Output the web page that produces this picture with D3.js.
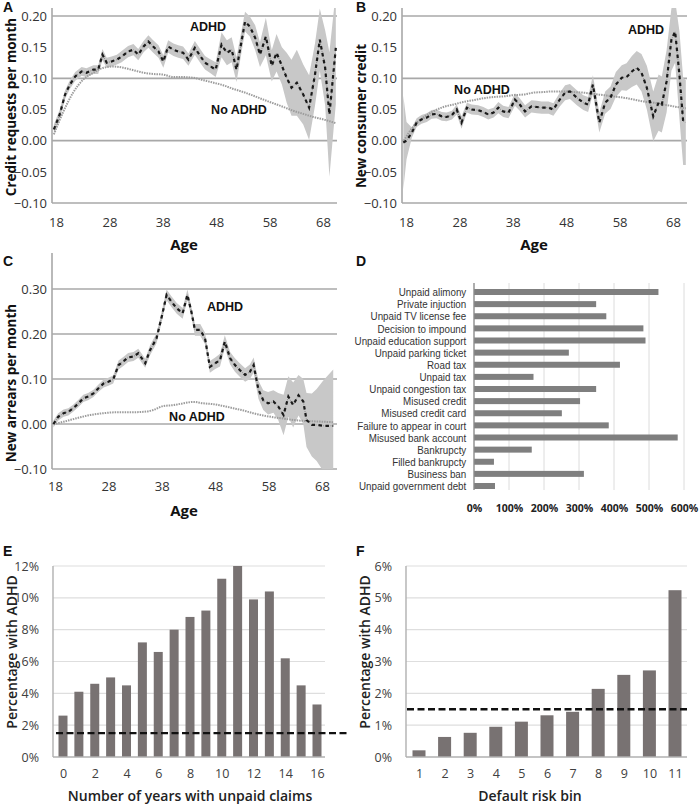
<!DOCTYPE html>
<html><head><meta charset="utf-8">
<script src="https://cdn.jsdelivr.net/npm/d3@7"></script>
<style>
body{margin:0;background:#fff}
svg{display:block}
text{font-family:"Open Sans",sans-serif}
</style>
</head><body>
<svg id="c" width="700" height="805"></svg>
<script>
// ---------- DATA ----------
const ageTicks = [18, 28, 38, 48, 58, 68];

// Panel A: credit requests per month
const ageA  = [17.6,18.7,19.7,20.6,21.6,22.8,23.7,25.0,25.9,26.7,27.5,28.4,29.4,30.3,31.5,32.5,33.4,34.4,35.3,36.2,37.2,38.1,39.0,40.0,40.9,41.8,42.8,44.0,45.0,45.9,46.8,47.9,49.0,50.0,50.9,51.8,53.4,54.3,55.3,56.2,57.3,58.4,59.3,60.3,61.2,62.1,63.1,64.3,65.4,66.5,67.4,68.4,69.2,70.4];
const adhdA = [0.018,0.042,0.074,0.090,0.103,0.111,0.109,0.114,0.114,0.138,0.125,0.127,0.130,0.135,0.143,0.146,0.138,0.151,0.159,0.151,0.143,0.127,0.151,0.146,0.143,0.141,0.130,0.149,0.136,0.125,0.120,0.114,0.154,0.141,0.146,0.114,0.191,0.183,0.165,0.138,0.167,0.120,0.141,0.120,0.101,0.085,0.093,0.074,0.053,0.106,0.162,0.117,0.042,0.149];
const ciA   = [0.008,0.008,0.007,0.007,0.007,0.007,0.007,0.007,0.007,0.009,0.008,0.008,0.008,0.009,0.009,0.009,0.009,0.009,0.010,0.010,0.010,0.010,0.010,0.010,0.010,0.010,0.010,0.011,0.011,0.011,0.011,0.012,0.020,0.020,0.020,0.020,0.016,0.016,0.020,0.020,0.030,0.025,0.030,0.030,0.040,0.045,0.053,0.048,0.052,0.050,0.050,0.060,0.100,0.090];
const ageNo = [17.6,19.4,21.2,23.1,25.0,26.9,28.7,30.6,32.5,34.4,36.2,38.1,40.0,41.8,43.7,45.6,47.5,49.3,51.2,53.1,55.0,56.8,58.7,60.6,62.4,64.3,66.2,68.1,70.4];
const noA   = [0.010,0.047,0.077,0.098,0.109,0.117,0.119,0.117,0.113,0.109,0.107,0.106,0.102,0.102,0.101,0.097,0.093,0.089,0.083,0.078,0.072,0.066,0.060,0.054,0.048,0.043,0.038,0.034,0.028];

// Panel B: new consumer credit
const ageB  = [17.5,18.1,19.1,20.0,20.9,21.9,22.8,23.7,24.7,25.6,26.6,27.5,28.4,29.4,30.3,31.5,32.5,33.4,34.4,35.3,36.2,37.2,38.4,39.3,40.3,41.5,42.5,43.4,44.7,45.6,46.8,47.8,48.7,50.0,51.2,52.1,53.0,54.2,55.3,56.3,57.3,58.4,59.3,60.3,61.2,62.1,63.1,64.3,65.3,65.9,66.8,67.7,68.4,69.2,69.9,70.4];
const adhdB = [-0.003,0.000,0.013,0.029,0.034,0.037,0.042,0.043,0.039,0.038,0.041,0.050,0.029,0.053,0.050,0.049,0.046,0.042,0.045,0.053,0.047,0.045,0.066,0.058,0.047,0.055,0.054,0.053,0.053,0.050,0.066,0.077,0.079,0.069,0.061,0.058,0.090,0.029,0.061,0.069,0.090,0.101,0.102,0.111,0.117,0.109,0.085,0.039,0.061,0.058,0.095,0.162,0.175,0.106,0.031,0.029];
const ciB   = [0.075,0.030,0.008,0.007,0.007,0.007,0.007,0.007,0.007,0.007,0.007,0.008,0.010,0.008,0.008,0.008,0.008,0.008,0.008,0.009,0.009,0.009,0.010,0.010,0.010,0.010,0.010,0.010,0.010,0.010,0.011,0.012,0.012,0.012,0.012,0.012,0.015,0.016,0.018,0.018,0.020,0.020,0.022,0.025,0.027,0.030,0.035,0.040,0.045,0.045,0.050,0.050,0.050,0.070,0.070,0.068];
const noB   = [0.000,0.023,0.037,0.047,0.054,0.058,0.062,0.065,0.068,0.070,0.071,0.073,0.074,0.077,0.078,0.079,0.079,0.078,0.077,0.075,0.073,0.071,0.069,0.066,0.063,0.061,0.058,0.055,0.052];

// Panel C: new arrears per month
const ageC  = [17.7,18.6,19.6,20.5,21.4,22.4,23.3,24.2,25.2,26.1,27.1,28.0,28.9,29.9,30.8,31.7,32.7,33.6,34.9,35.8,37.0,38.0,38.9,39.8,40.8,41.9,42.8,43.6,44.2,45.2,46.1,47.0,48.0,48.9,49.8,50.8,51.7,52.6,53.6,54.5,55.2,56.1,57.0,57.9,58.9,59.8,60.8,61.7,62.6,63.6,64.5,65.1,66.1,67.0,68.2,70.1];
const adhdC = [0.000,0.016,0.024,0.027,0.035,0.046,0.057,0.061,0.068,0.079,0.090,0.094,0.099,0.131,0.139,0.148,0.150,0.157,0.135,0.164,0.190,0.239,0.287,0.272,0.257,0.246,0.287,0.246,0.209,0.209,0.190,0.127,0.135,0.142,0.183,0.146,0.131,0.120,0.109,0.116,0.131,0.076,0.053,0.046,0.050,0.039,0.020,0.061,0.042,0.064,0.050,0.009,-0.002,-0.002,-0.004,-0.004];
const ciC   = [0.008,0.008,0.008,0.008,0.008,0.008,0.008,0.008,0.008,0.008,0.009,0.009,0.009,0.010,0.010,0.010,0.010,0.010,0.010,0.011,0.011,0.012,0.012,0.012,0.012,0.012,0.012,0.012,0.013,0.013,0.013,0.013,0.013,0.014,0.014,0.014,0.015,0.015,0.015,0.016,0.017,0.020,0.022,0.025,0.025,0.030,0.045,0.045,0.050,0.045,0.050,0.060,0.070,0.080,0.100,0.125];
const ageNoC = [17.7,19.6,22.1,24.6,27.1,29.5,32.0,34.5,36.4,38.3,40.2,42.0,43.9,45.8,47.7,49.5,51.4,53.3,55.1,57.0,58.9,60.8,62.6,64.5,66.4,68.2,70.1];
const noC   = [0.000,0.005,0.013,0.020,0.024,0.026,0.026,0.027,0.031,0.040,0.042,0.046,0.049,0.046,0.044,0.040,0.035,0.030,0.024,0.019,0.015,0.012,0.009,0.007,0.006,0.005,0.004];

// Panel D: relative risk by type of claim
const dCats = ["Unpaid alimony","Private injuction","Unpaid TV license fee","Decision to impound","Unpaid education support","Unpaid parking ticket","Road tax","Unpaid tax","Unpaid congestion tax","Misused credit","Misused credit card","Failure to appear in court","Misused bank account","Bankrupcty","Filled bankrupcty","Business ban","Unpaid government debt"];
const dVals = [5.27,3.49,3.78,4.84,4.90,2.71,4.17,1.70,3.49,3.03,2.51,3.85,5.82,1.65,0.57,3.14,0.60];
const dTicks = [0,1,2,3,4,5,6];

// Panel E: years with unpaid claims
const eYears = [0,1,2,3,4,5,6,7,8,9,10,11,12,13,14,15,16];
const eVals  = [0.026,0.041,0.046,0.050,0.045,0.072,0.066,0.080,0.088,0.092,0.112,0.120,0.099,0.104,0.062,0.045,0.033];
const eTicks = [0,2,4,6,8,10,12,14,16];

// Panel F: default risk bin
const fBins = [1,2,3,4,5,6,7,8,9,10,11];
const fVals = [0.0021,0.0063,0.0076,0.0095,0.0111,0.0131,0.0142,0.0214,0.0258,0.0272,0.0524];

const baseRate = 0.015;

// ---------- DRAWING ----------
const svg = d3.select("#c");
const GRID = "#a8a8a8";

function letter(t, x, y) {
  svg.append("text").attr("x", x).attr("y", y).text(t)
    .attr("font-size", 14).attr("font-weight", "bold").attr("fill", "#111")
    .style("font-family", "'Liberation Sans',Arial,sans-serif");
}

function linePanel(o) {
  const g = svg.append("g");
  const x = d3.scaleLinear().domain([18, 68]).range(o.xr);
  const y = d3.scaleLinear().domain(o.yDom).range(o.yRange);
  const left = o.pl, right = o.pr, top = o.top, bottom = y(o.yDom[0]);

  g.selectAll("line.grid").data(o.grid).join("line")
    .attr("x1", left).attr("x2", right)
    .attr("y1", d => y(d)).attr("y2", d => y(d))
    .attr("stroke", GRID).attr("stroke-width", 1.6);
  g.append("line").attr("x1", left).attr("x2", left).attr("y1", top).attr("y2", bottom)
    .attr("stroke", GRID).attr("stroke-width", 1.6);

  const cid = "clip" + o.id;
  svg.append("clipPath").attr("id", cid).append("rect")
    .attr("x", left).attr("y", top).attr("width", right - left).attr("height", bottom - top);
  const pg = g.append("g").attr("clip-path", `url(#${cid})`);

  const idx = d3.range(o.ages.length);
  pg.append("path").datum(idx)
    .attr("d", d3.area().x(i => x(o.ages[i])).y0(i => y(o.adhd[i] - o.ci[i])).y1(i => y(o.adhd[i] + o.ci[i])))
    .attr("fill", "#c8c8c8");

  const idxN = d3.range(o.noAges.length);
  pg.append("path").datum(idxN)
    .attr("d", d3.line().curve(d3.curveMonotoneX).x(i => x(o.noAges[i])).y(i => y(o.no[i])))
    .attr("fill", "none").attr("stroke", "#9c9c9c").attr("stroke-width", 2).attr("stroke-dasharray", "1.5,1");

  const ln = d3.line().x(i => x(o.ages[i])).y(i => y(o.adhd[i]));
  pg.append("path").datum(idx).attr("d", ln)
    .attr("fill", "none").attr("stroke", "#8a8a8a").attr("stroke-width", 1).attr("stroke-dasharray", "1,1.5");
  pg.append("path").datum(idx).attr("d", ln)
    .attr("fill", "none").attr("stroke", "#1a1a1a").attr("stroke-width", 2.2).attr("stroke-dasharray", "3.5,3.5");

  const ya = g.append("g").attr("transform", `translate(${left},0)`)
    .call(d3.axisLeft(y).tickValues(o.ticks).tickFormat(d3.format(".2f")).tickSize(0).tickPadding(5));
  ya.select(".domain").remove();
  ya.selectAll("text").attr("font-size", 13).attr("fill", "#333").style("font-family", "'Open Sans',sans-serif");

  const xa = g.append("g").attr("transform", `translate(0,${bottom})`)
    .call(d3.axisBottom(x).tickValues(ageTicks).tickFormat(d3.format("d")).tickSize(0).tickPadding(o.xpad));
  xa.select(".domain").remove();
  xa.selectAll("text").attr("font-size", 13).attr("fill", "#333").style("font-family", "'Open Sans',sans-serif");

  g.append("text").attr("x", left + 132).attr("y", o.ageY).attr("text-anchor", "middle")
    .attr("font-size", 15).attr("font-weight", "bold").attr("fill", "#111").text("Age");
  g.append("text").attr("transform", `translate(${left - 36},${o.titleY}) rotate(-90)`)
    .attr("text-anchor", "middle").attr("font-size", 13.5).attr("font-weight", "bold").attr("fill", "#111").text(o.title);

  o.labels.forEach(l => {
    g.append("text").attr("x", l[1]).attr("y", l[2]).attr("text-anchor", "middle")
      .attr("font-size", 12.5).attr("font-weight", "bold").attr("fill", "#111")
      .style("font-family", "'Liberation Sans',Arial,sans-serif").text(l[0]);
  });
}

linePanel({id: "A", xr: [56, 323], pl: 52, pr: 337, top: 8, yDom: [-0.1, 0.2], yRange: [203, 16],
  grid: [0.2, 0.1, 0, -0.1], ticks: [-0.1, -0.05, 0, 0.05, 0.1, 0.15, 0.2], xpad: 15, ageY: 250, titleY: 107,
  ages: ageA, adhd: adhdA, ci: ciA, noAges: ageNo, no: noA, title: "Credit requests per month",
  labels: [["ADHD", 208, 31], ["No ADHD", 239, 114]]});
linePanel({id: "B", xr: [406, 673], pl: 402, pr: 687, top: 8, yDom: [-0.1, 0.2], yRange: [203, 16],
  grid: [0.2, 0.1, 0, -0.1], ticks: [-0.1, -0.05, 0, 0.05, 0.1, 0.15, 0.2], xpad: 15, ageY: 250, titleY: 116,
  ages: ageB, adhd: adhdB, ci: ciB, noAges: ageNo, no: noB, title: "New consumer credit",
  labels: [["ADHD", 646, 34], ["No ADHD", 482, 94]]});
linePanel({id: "C", xr: [55, 322], pl: 52, pr: 337, top: 253, yDom: [-0.1, 0.3], yRange: [469, 289],
  grid: [0.3, 0.2, 0.1, 0, -0.1], ticks: [-0.1, 0, 0.1, 0.2, 0.3], xpad: 13, ageY: 516, titleY: 383,
  ages: ageC, adhd: adhdC, ci: ciC, noAges: ageNoC, no: noC, title: "New arrears per month",
  labels: [["ADHD", 225, 311], ["No ADHD", 197, 421]]});

letter("A", 3, 12); letter("B", 356, 12); letter("C", 3, 266); letter("D", 356, 266);
letter("E", 3, 556); letter("F", 356, 556);

// ---------- Panel D ----------
(function () {
  const g = svg.append("g");
  const x = d3.scaleLinear().domain([0, 6]).range([474, 684]);
  const y = d3.scalePoint().domain(dCats).range([292, 486]);
  g.selectAll("line.vg").data(dTicks.slice(1)).join("line")
    .attr("x1", d => x(d)).attr("x2", d => x(d)).attr("y1", 283).attr("y2", 490)
    .attr("stroke", "#dcdcdc").attr("stroke-width", 1);
  g.selectAll("rect").data(dVals).join("rect")
    .attr("x", x(0)).attr("y", (d, i) => y(dCats[i]) - 3)
    .attr("width", d => x(d) - x(0)).attr("height", 6).attr("fill", "#7f7f7f");
  g.append("line").attr("x1", x(0)).attr("x2", x(0)).attr("y1", 283).attr("y2", 490)
    .attr("stroke", "#8c8c8c").attr("stroke-width", 1.4);
  const ya = g.append("g").attr("transform", `translate(${x(0)},0)`)
    .call(d3.axisLeft(y).tickSize(0).tickPadding(9));
  ya.select(".domain").remove();
  ya.selectAll("text").attr("font-size", 11.4).attr("fill", "#333")
    .attr("transform", "scale(0.86,1)")
    .style("font-family", "'Liberation Sans',Arial,sans-serif");
  const xa = g.append("g").attr("transform", "translate(0,490)")
    .call(d3.axisBottom(x).tickValues(dTicks).tickFormat(d => (d * 100) + "%").tickSize(0).tickPadding(15));
  xa.select(".domain").remove();
  xa.selectAll("text").attr("font-size", 10.5).attr("font-weight", "bold").attr("fill", "#222");
})();

// ---------- Panels E & F ----------
function barPanel(o) {
  const g = svg.append("g");
  const x = d3.scalePoint().domain(o.cats).range(o.xr);
  const y = d3.scaleLinear().domain([0, o.ymax]).range([757, 566]);
  g.selectAll("line.hg").data(o.yt.slice(1)).join("line")
    .attr("x1", o.pl).attr("x2", o.pr).attr("y1", d => y(d)).attr("y2", d => y(d))
    .attr("stroke", "#dedede").attr("stroke-width", 1.2);
  g.selectAll("rect").data(o.vals).join("rect")
    .attr("x", (d, i) => x(o.cats[i]) - o.bw / 2).attr("y", d => y(d))
    .attr("width", o.bw).attr("height", d => y(0) - y(d)).attr("fill", "#787272");
  g.append("line").attr("x1", o.pl).attr("x2", o.pr).attr("y1", y(0)).attr("y2", y(0))
    .attr("stroke", "#b0b0b0").attr("stroke-width", 1.4);
  g.append("line").attr("x1", o.pl).attr("x2", o.pl).attr("y1", y(o.ymax)).attr("y2", y(0))
    .attr("stroke", "#b0b0b0").attr("stroke-width", 1.4);
  g.append("line").attr("x1", o.dl[0]).attr("x2", o.dl[1]).attr("y1", y(baseRate)).attr("y2", y(baseRate))
    .attr("stroke", "#111").attr("stroke-width", 2.3).attr("stroke-dasharray", "7,3.5");
  const ya = g.append("g").attr("transform", `translate(${o.pl},0)`)
    .call(d3.axisLeft(y).tickValues(o.yt).tickFormat(d3.format(".0%")).tickSize(0).tickPadding(14));
  ya.select(".domain").remove();
  ya.selectAll("text").attr("font-size", 12.5).attr("fill", "#404040");
  const xa = g.append("g").attr("transform", `translate(0,757)`)
    .call(d3.axisBottom(x).tickValues(o.xt).tickSize(0).tickPadding(12));
  xa.select(".domain").remove();
  xa.selectAll("text").attr("font-size", 12.5).attr("fill", "#404040");
  g.append("text").attr("x", o.tx).attr("y", 801).attr("text-anchor", "middle")
    .attr("font-size", 14).attr("font-weight", 600).attr("fill", "#222").text(o.title);
  g.append("text").attr("transform", `translate(${o.pl - 36},652) rotate(-90)`).attr("text-anchor", "middle")
    .attr("font-size", 14).attr("font-weight", 600).attr("fill", "#222").text("Percentage with ADHD");
}

barPanel({cats: eYears, vals: eVals, xr: [63, 317], bw: 9, ymax: 0.12, yt: [0,0.02,0.04,0.06,0.08,0.10,0.12],
  xt: eTicks, pl: 53, pr: 325, dl: [56, 347], tx: 190, title: "Number of years with unpaid claims"});
barPanel({cats: fBins, vals: fVals, xr: [419, 675], bw: 13, ymax: 0.06, yt: [0,0.01,0.02,0.03,0.04,0.05,0.06],
  xt: fBins, pl: 406, pr: 687, dl: [407, 687], tx: 530, title: "Default risk bin"});
</script>
</body></html>
